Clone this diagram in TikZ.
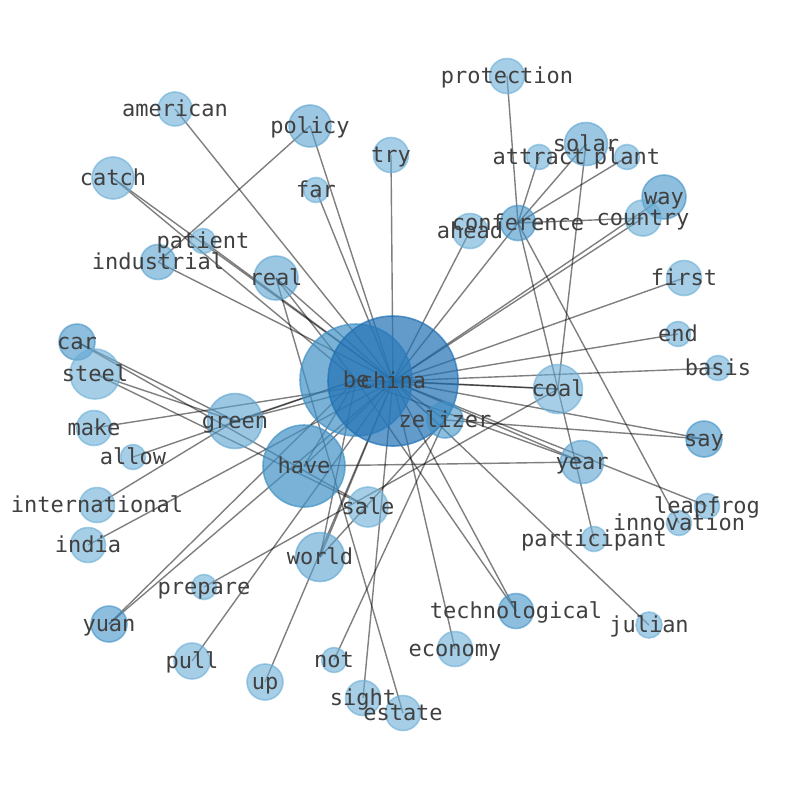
\documentclass[tikz,border=0pt]{standalone}
\usepackage{fontspec}
\newfontfamily\lblfont{DejaVu Sans Mono}
\pgfdeclarelayer{bg}\pgfdeclarelayer{fg}\pgfsetlayers{bg,main,fg}
\definecolor{cone}{HTML}{6BAED6}
\definecolor{ctwo}{HTML}{5AA2D0}
\definecolor{cthree}{HTML}{4292C6}
\definecolor{cfour}{HTML}{2171B5}
\definecolor{lblgray}{HTML}{404040}
\begin{document}
\begin{tikzpicture}[x=1pt,y=-1pt,
  basenode/.style={circle,inner sep=0pt,line width=1.6pt},
  lnode/.style={basenode,minimum size=#1,fill=cone,draw=cone,fill opacity=.6,draw opacity=.6},
  mnode/.style={basenode,minimum size=#1,fill=ctwo,draw=ctwo,fill opacity=.6,draw opacity=.6},
  dnode/.style={basenode,minimum size=#1,fill=cthree,draw=cthree,fill opacity=.6,draw opacity=.6},
  hnode/.style={basenode,minimum size=#1,fill=cthree,draw=cthree,fill opacity=.7,draw opacity=.7},
  cnode/.style={basenode,minimum size=#1,fill=cfour,draw=cfour,fill opacity=.7,draw opacity=.7},
  ed/.style={draw=black,draw opacity=.5,line width=1.4pt},
  lbl/.style={font=\lblfont\fontsize{22}{26}\selectfont,text=lblgray,inner sep=0pt,text height=16.7pt,text depth=5.3pt,yshift=-2pt}]
\useasboundingbox (0,0) rectangle (794,790);
% nodes (circles)
\node[lnode=34] (american) at (175,109) {};
\node[mnode=42] (policy) at (310,126) {};
\node[lnode=25] (far) at (316,190) {};
\node[lnode=35] (try) at (391,155) {};
\node[lnode=42] (catch) at (113,178) {};
\node[lnode=25] (patient) at (203,241) {};
\node[mnode=35] (industrial) at (158,262) {};
\node[mnode=44] (real) at (276,278) {};
\node[lnode=35] (protection) at (507,76) {};
\node[lnode=25] (attract) at (539,157) {};
\node[mnode=43] (solar) at (586,144) {};
\node[lnode=25] (plant) at (627,157) {};
\node[dnode=44] (way) at (664,197) {};
\node[lnode=36] (country) at (643,218) {};
\node[lnode=35] (ahead) at (470,231) {};
\node[dnode=35] (conference) at (518,223) {};
\node[lnode=35] (first) at (684,278) {};
\node[lnode=25] (end) at (678,334) {};
\node[lnode=25] (basis) at (718,368) {};
\node[lnode=49] (coal) at (558,389) {};
\node[dnode=36] (say) at (704,439) {};
\node[mnode=43] (year) at (582,462) {};
\node[lnode=25] (leapfrog) at (707,506) {};
\node[lnode=25] (innovation) at (679,523) {};
\node[lnode=25] (participant) at (594,539) {};
\node[lnode=26] (julian) at (649,625) {};
\node[dnode=35] (technological) at (516,611) {};
\node[lnode=35] (economy) at (455,649) {};
\node[lnode=35] (estate) at (403,713) {};
\node[lnode=35] (sight) at (363,698) {};
\node[lnode=25] (not) at (334,660) {};
\node[lnode=36] (up) at (265,682) {};
\node[lnode=36] (pull) at (192,661) {};
\node[dnode=36] (yuan) at (109,624) {};
\node[lnode=25] (prepare) at (204,587) {};
\node[lnode=35] (india) at (88,545) {};
\node[lnode=35] (international) at (97,505) {};
\node[lnode=25] (allow) at (133,457) {};
\node[lnode=35] (make) at (94,428) {};
\node[dnode=36] (car) at (77,342) {};
\node[lnode=50] (steel) at (95,374) {};
\node[mnode=55] (green) at (235,421) {};
\node[mnode=49] (world) at (320,557) {};
\node[lnode=40] (sale) at (368,507) {};
\node[hnode=82] (have) at (304,466) {};
\node[hnode=112] (be) at (356,380) {};
\node[cnode=130] (china) at (393,381) {};
\node[dnode=36] (zelizer) at (445,420) {};
% edges
\begin{pgfonlayer}{bg}
\foreach \a/\b in {china/be,china/have,be/have,china/green,be/green,china/zelizer,
  china/coal,be/coal,china/real,be/real,real/estate,china/year,be/year,have/year,
  china/say,zelizer/say,china/basis,china/end,china/first,china/country,china/way,
  conference/country,china/conference,china/ahead,conference/attract,conference/solar,
  conference/plant,conference/protection,conference/participant,conference/innovation,
  solar/coal,china/try,china/far,china/policy,policy/industrial,china/american,
  china/catch,be/catch,china/patient,china/industrial,car/green,car/sale,steel/green,
  steel/sale,china/make,be/allow,green/international,china/india,china/yuan,be/yuan,
  prepare/coal,china/pull,china/up,china/world,be/world,world/zelizer,zelizer/not,
  china/sight,china/economy,china/technological,be/technological,china/julian,
  china/leapfrog}
  \draw[ed] (\a.center) -- (\b.center);
\end{pgfonlayer}
% labels
\begin{pgfonlayer}{fg}
\foreach \n in {american,policy,far,try,catch,patient,industrial,real,protection,
  attract,solar,plant,way,country,ahead,conference,first,end,basis,coal,say,year,
  leapfrog,innovation,participant,julian,technological,economy,estate,sight,not,up,
  pull,yuan,prepare,india,international,allow,make,car,steel,green,world,sale,have,
  be,china,zelizer}
  \node[lbl] (\n-l) at (\n.center) {\n};
\end{pgfonlayer}
\end{tikzpicture}
\end{document}
